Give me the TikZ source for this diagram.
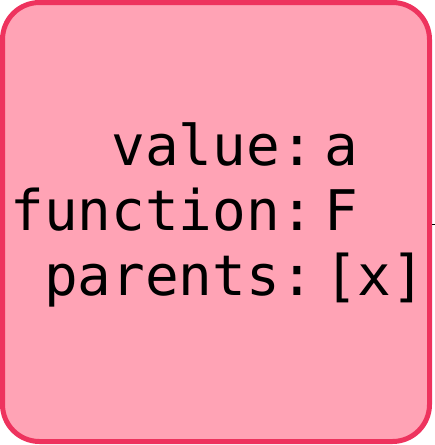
\documentclass[tikz,border=0pt]{standalone}
\usepackage{fontspec}
\setmonofont{DejaVu Sans Mono}
\usepackage{xcolor}
\usepackage{tikz}
\usetikzlibrary{positioning}
\definecolor{RecFill}{HTML}{FFA3B5}
\definecolor{RecLine}{HTML}{EE335E}

\begin{document}
\begin{tikzpicture}[x=1pt,y=-1pt]
  \tikzstyle{record}=[draw=RecLine,fill=RecFill,line width=5pt,rounded corners=37pt,minimum width=427pt,minimum height=439pt,inner sep=0pt]
  \tikzstyle{key}=[inner sep=0pt,anchor=base east,font=\ttfamily\fontsize{56}{56}\selectfont]
  \tikzstyle{val}=[inner sep=0pt,anchor=base west,font=\ttfamily\fontsize{56}{56}\selectfont]
  \useasboundingbox (0,0) rectangle (435,445);
  \node[record] (rec) at (216,222) {};
  \node[key] (kvalue)  at (314,165) {value:};
  \node[val] (vvalue)  at (324,165) {a};
  \node[key] (kfunc)   at (314,230) {function:};
  \node[val] (vfunc)   at (324,230) {F};
  \node[key] (kparent) at (314,295) {parents:};
  \node[val] (vparent) at (324,295) {[x]};
  \coordinate (out) at (435,224.5);
  \draw[line width=1.5pt] (rec.east |- out) -- (out);
\end{tikzpicture}
\end{document}
